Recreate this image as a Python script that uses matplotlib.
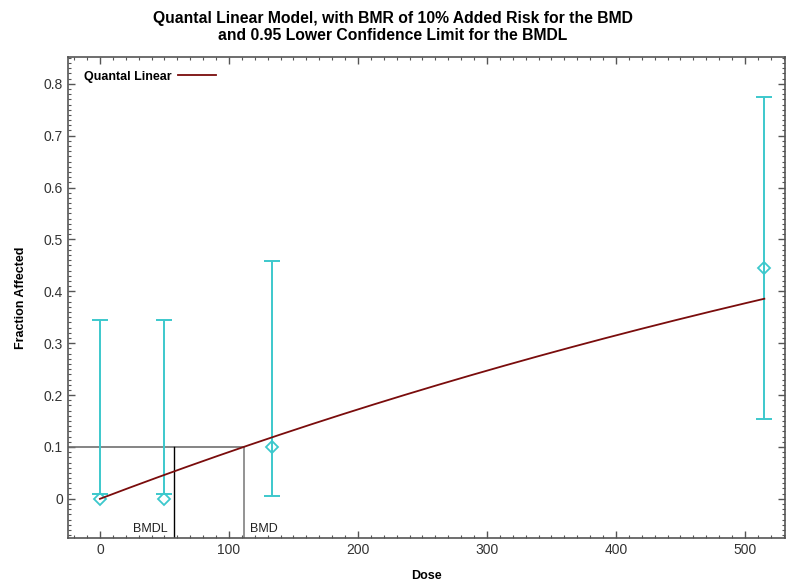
import numpy as np
import matplotlib
matplotlib.use("Agg")
import matplotlib.pyplot as plt
from matplotlib.ticker import MultipleLocator

# Observed dose groups and response fractions with confidence limits
dose = [0, 50, 133, 515]
frac = [0.0, 0.0, 0.1, 0.444]
ci_low = [0.0096, 0.0096, 0.0058, 0.154]
ci_high = [0.345, 0.345, 0.459, 0.774]

# Quantal linear fit: P(d) = g + (1 - g) * (1 - exp(-b d))
background = 0.0
slope = 0.000946
bmr = 0.1
bmd = 111.4
bmdl = 57.6

plt.rcParams["font.family"] = ["Liberation Sans", "DejaVu Sans"]

fig = plt.figure(figsize=(7.86, 5.84), dpi=100)
ax = fig.add_axes([0.0861, 0.0783, 0.9126, 0.8236])

teal = "#3cc8cc"
curve_color = "#7a0c0c"

# Confidence intervals: vertical bar with caps at both limits
ax.vlines(dose, ci_low, ci_high, colors=teal, linewidth=1.4, zorder=3)
ax.plot(dose, ci_low, linestyle="none", marker="_", markersize=12,
        markeredgewidth=1.4, color=teal, zorder=3)
ax.plot(dose, ci_high, linestyle="none", marker="_", markersize=12,
        markeredgewidth=1.4, color=teal, zorder=3)
ax.plot(dose, frac, linestyle="none", marker="D", markersize=6,
        markerfacecolor="none", markeredgecolor=teal, markeredgewidth=1.3, zorder=4)

# Fitted curve
d = np.linspace(0, max(dose), 300)
p = background + (1 - background) * (1 - np.exp(-slope * d))
ax.plot(d, p, color=curve_color, linewidth=1.3, label="Quantal Linear", zorder=5)

# BMD / BMDL reference lines
xmin, xmax = -25, 531
ymin, ymax = -0.076, 0.851
ax.plot([xmin, bmd], [bmr, bmr], color="#707070", linewidth=1.2, zorder=2)
ax.plot([bmd, bmd], [ymin, bmr], color="#808080", linewidth=1.2, zorder=2)
ax.plot([bmdl, bmdl], [ymin, bmr], color="#000000", linewidth=1.0, zorder=2)
ax.text(bmdl - 5, -0.058, "BMDL", ha="right", va="center", fontsize=9, color="#222222")
ax.text(bmd + 5, -0.058, "BMD", ha="left", va="center", fontsize=9, color="#222222")

ax.set_xlim(xmin, xmax)
ax.set_ylim(ymin, ymax)
ax.xaxis.set_major_locator(MultipleLocator(100))
ax.xaxis.set_minor_locator(MultipleLocator(10))
ax.yaxis.set_minor_locator(MultipleLocator(0.01))
ax.set_yticks([0, 0.1, 0.2, 0.3, 0.4, 0.5, 0.6, 0.7, 0.8])
ax.set_yticklabels(["0", "0.1", "0.2", "0.3", "0.4", "0.5", "0.6", "0.7", "0.8"])

ax.tick_params(which="both", direction="in", top=True, right=True,
               color="#555555", labelcolor="#333333", labelsize=10)
ax.tick_params(which="major", length=5, width=1)
ax.tick_params(which="minor", length=2.5, width=0.8)
for s in ax.spines.values():
    s.set_color("#555555")
    s.set_linewidth(1.2)

ax.set_xlabel("Dose", fontsize=9, fontweight="bold", labelpad=9)
ax.set_ylabel("Fraction Affected", fontsize=9, fontweight="bold", labelpad=12)

fig.suptitle("Quantal Linear Model, with BMR of 10% Added Risk for the BMD\n"
             "and 0.95 Lower Confidence Limit for the BMDL",
             fontsize=11.3, fontweight="bold", y=0.982, linespacing=1.2)

leg = ax.legend(loc="upper left", bbox_to_anchor=(0.011, 0.99), frameon=False,
                markerfirst=False, prop={"weight": "bold", "size": 9},
                handlelength=3, handletextpad=0.5, borderaxespad=0.3)

fig.savefig("out.png", dpi=100)
